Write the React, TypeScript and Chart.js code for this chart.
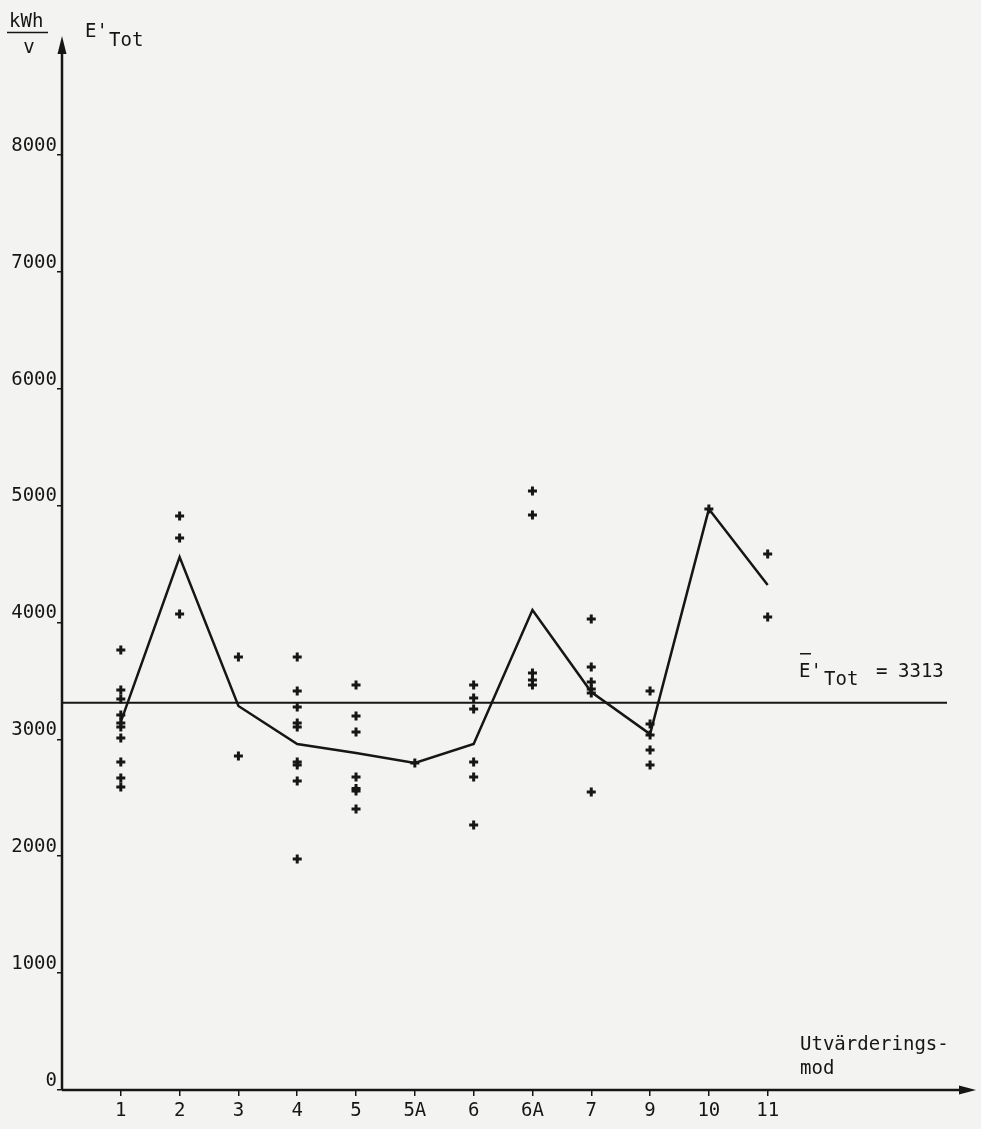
import React, { useEffect, useRef } from "react";
import { Chart, registerables } from "chart.js";

Chart.register(...registerables);

const categories = ["1", "2", "3", "4", "5", "5A", "6", "6A", "7", "9", "10", "11"];
const lineValues = [3150, 4560, 3285, 2960, 2883, 2797, 2960, 4106, 3405, 3045, 4970, 4320];

const cat1 = [3764, 3422, 3345, 3208, 3139, 3105, 3011, 2806, 2669, 2592];
const cat2 = [4910, 4722, 4072];
const cat3 = [3704, 2857];
const cat4 = [3704, 3413, 3276, 3139, 3105, 2806, 2780, 2643, 1976];
const cat5 = [3465, 3199, 3062, 2677, 2580, 2558, 2404];
const cat5A = [2797];
const cat6 = [3465, 3353, 3259, 2806, 2677, 2267];
const cat6A = [5124, 4919, 3567, 3507, 3465];
const cat7 = [4029, 3618, 3490, 3430, 3396, 2549];
const cat9 = [3413, 3131, 3037, 2908, 2780];
const cat10 = [4970];
const cat11 = [4585, 4046];
const pointValues = [cat1, cat2, cat3, cat4, cat5, cat5A, cat6, cat6A, cat7, cat9, cat10, cat11];

const yTickValues = [0, 1000, 2000, 3000, 4000, 5000, 6000, 7000, 8000];
const meanValue = 3313;
const meanLabel = "3313";

const FONT = '"DejaVu Sans Mono", "Liberation Mono", monospace';
const INK = "#161616";
const PAPER = "#f3f3f1";

const paperPlugin = {
  id: "paper",
  beforeDraw(chart: any) {
    const { ctx, width, height } = chart;
    ctx.save();
    ctx.fillStyle = PAPER;
    ctx.fillRect(0, 0, width, height);
    ctx.restore();
  },
  beforeDatasetsDraw(chart: any) {
    const { ctx, chartArea, scales } = chart;
    const y = scales.y.getPixelForValue(meanValue);
    ctx.save();
    ctx.strokeStyle = INK;
    ctx.lineWidth = 2;
    ctx.beginPath();
    ctx.moveTo(chartArea.left, y);
    ctx.lineTo(947, y);
    ctx.stroke();
    // mean label
    ctx.fillStyle = INK;
    ctx.font = `19px ${FONT}`;
    ctx.textBaseline = "alphabetic";
    ctx.textAlign = "left";
    ctx.fillText("E'", 799, y - 26);
    ctx.fillText("Tot", 824, y - 18);
    ctx.fillText("=", 876, y - 26);
    ctx.fillText(meanLabel, 898, y - 26);
    ctx.lineWidth = 1.5;
    ctx.beginPath();
    ctx.moveTo(800, y - 49);
    ctx.lineTo(811, y - 49);
    ctx.stroke();
    ctx.restore();
  },
  afterDraw(chart: any) {
    const { ctx, chartArea } = chart;
    const x0 = chartArea.left;
    const y0 = chartArea.bottom;
    ctx.save();
    ctx.strokeStyle = INK;
    ctx.fillStyle = INK;
    ctx.lineWidth = 2.5;
    // y axis
    ctx.beginPath();
    ctx.moveTo(x0, y0);
    ctx.lineTo(x0, 50);
    ctx.stroke();
    ctx.beginPath();
    ctx.moveTo(x0, 36);
    ctx.lineTo(x0 - 4.5, 54);
    ctx.lineTo(x0 + 4.5, 54);
    ctx.closePath();
    ctx.fill();
    // x axis
    ctx.beginPath();
    ctx.moveTo(x0, y0);
    ctx.lineTo(962, y0);
    ctx.stroke();
    ctx.beginPath();
    ctx.moveTo(976, y0);
    ctx.lineTo(959, y0 - 4.5);
    ctx.lineTo(959, y0 + 4.5);
    ctx.closePath();
    ctx.fill();
    // texts
    ctx.font = `19px ${FONT}`;
    ctx.textAlign = "left";
    ctx.textBaseline = "alphabetic";
    ctx.fillText("kWh", 9, 27);
    ctx.textAlign = "center";
    ctx.fillText("v", 29, 53);
    ctx.lineWidth = 1.5;
    ctx.beginPath();
    ctx.moveTo(7, 32.5);
    ctx.lineTo(48, 32.5);
    ctx.stroke();
    ctx.textAlign = "left";
    ctx.fillText("E'", 85, 37);
    ctx.fillText("Tot", 109, 46);
    ctx.fillText("Utvärderings-", 800, 1050);
    ctx.fillText("mod", 800, 1074);
    ctx.restore();
  },
};

export default function App() {
  const canvasRef = useRef<HTMLCanvasElement | null>(null);

  useEffect(() => {
    const canvas = canvasRef.current;
    if (!canvas) return;

    const scatterData: { x: number; y: number }[] = [];
    pointValues.forEach((vals, i) => {
      vals.forEach((v) => scatterData.push({ x: i + 1, y: v }));
    });
    const lineData = lineValues.map((v, i) => ({ x: i + 1, y: v }));

    const chart = new Chart(canvas, {
      type: "scatter",
      data: {
        datasets: [
          {
            label: "Medel",
            data: lineData,
            showLine: true,
            borderColor: INK,
            borderWidth: 2.5,
            pointRadius: 0,
            tension: 0,
          },
          {
            label: "Objekt",
            data: scatterData,
            showLine: false,
            pointStyle: "cross",
            pointRadius: 4.5,
            borderColor: INK,
            backgroundColor: INK,
            pointBorderWidth: 3,
            borderWidth: 3,
          } as any,
        ],
      },
      options: {
        responsive: false,
        animation: false,
        layout: { padding: { top: 38, right: 5, left: 0, bottom: 0 } },
        plugins: {
          legend: { display: false },
          tooltip: { enabled: false },
        },
        scales: {
          x: {
            type: "linear",
            min: 0,
            max: 15.5,
            afterBuildTicks: (axis: any) => {
              axis.ticks = categories.map((_, i) => ({ value: i + 1 }));
            },
            afterFit: (axis: any) => {
              axis.height = 39;
            },
            border: { display: false },
            grid: {
              display: true,
              drawOnChartArea: false,
              drawTicks: true,
              tickLength: 6,
              color: INK,
              lineWidth: 1.5,
            },
            ticks: {
              autoSkip: false,
              maxRotation: 0,
              padding: 4,
              color: INK,
              font: { family: FONT, size: 19 },
              callback: (v: any) => categories[Math.round(Number(v)) - 1] ?? "",
            },
          },
          y: {
            type: "linear",
            min: 0,
            max: 9000,
            afterBuildTicks: (axis: any) => {
              axis.ticks = yTickValues.map((v) => ({ value: v }));
            },
            afterFit: (axis: any) => {
              axis.width = 62;
            },
            border: { display: false },
            grid: {
              display: true,
              drawOnChartArea: false,
              drawTicks: true,
              tickLength: 5,
              color: INK,
              lineWidth: 1.5,
            },
            ticks: {
              padding: 0,
              labelOffset: -9,
              color: INK,
              font: { family: FONT, size: 19 },
              callback: (v: any) => String(v),
            },
          },
        },
      },
      plugins: [paperPlugin],
    });

    return () => chart.destroy();
  }, []);

  return (
    <div style={{ position: "absolute", left: 0, top: 0, width: 981, height: 1129 }}>
      <canvas ref={canvasRef} width={981} height={1129} style={{ display: "block" }} />
    </div>
  );
}
